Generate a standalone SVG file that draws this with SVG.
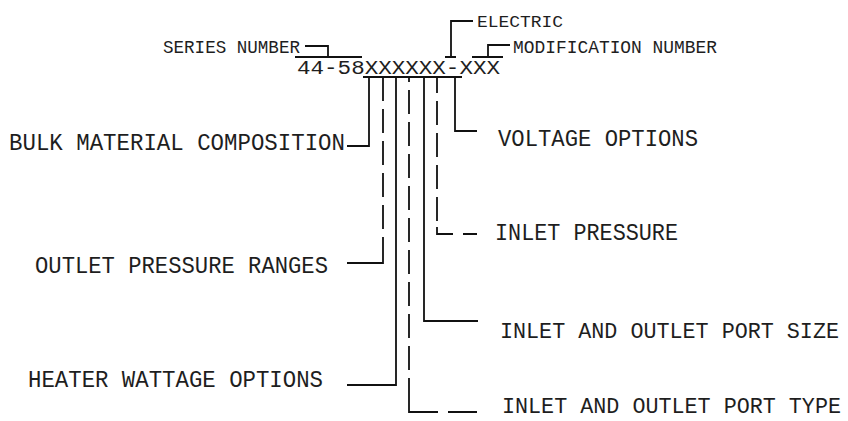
<svg xmlns="http://www.w3.org/2000/svg" width="848" height="421" viewBox="0 0 848 421">
<style>
.lbl{font-family:"Liberation Mono","DejaVu Sans Mono",monospace;font-size:23px;fill:#1e1e1e}
.lbl2{font-family:"Liberation Mono","DejaVu Sans Mono",monospace;font-size:21.5px;fill:#1e1e1e}
.sm{font-family:"Liberation Mono","DejaVu Sans Mono",monospace;font-size:18px;fill:#1e1e1e}
.xs{font-family:"Liberation Mono","DejaVu Sans Mono",monospace;font-size:16px;fill:#1e1e1e}
.code{font-family:"Liberation Mono","DejaVu Sans Mono",monospace;font-size:20px;fill:#1e1e1e}
.ln{fill:none;stroke:#111;stroke-width:1.8}
.dash{fill:none;stroke:#111;stroke-width:1.8;stroke-dasharray:24 8}
</style>
<rect width="848" height="421" fill="#fff"/>
<g id="connectors">
  <path class="ln" d="M305,46H328V57M295,57H362"/>
  <path class="ln" d="M473,21H451V57M445,57H456"/>
  <path class="ln" d="M510,45H488V57M472,57H503"/>
  <path class="ln" d="M363,77H462"/>
  <path class="ln" d="M369,77V146H347"/>
  <path class="dash" d="M383,77V229"/>
  <path class="ln" d="M383,237V263H347"/>
  <path class="ln" d="M396,77V385H347"/>
  <path class="dash" d="M409,77V402" stroke-dashoffset="19"/>
  <path class="ln" d="M409,402V412H438M448,412H477"/>
  <path class="ln" d="M424,77V321H478"/>
  <path class="dash" d="M437,77V221" stroke-dashoffset="8"/>
  <path class="ln" d="M437,227V234H453M463,234H477"/>
  <path class="ln" d="M455,77V131H477"/>
</g>
<g id="code"><text class="code" x="297" y="74" textLength="203" lengthAdjust="spacingAndGlyphs">44-58XXXXXX-XXX</text></g>
<g id="series-number"><text class="sm" x="163" y="53" textLength="137" lengthAdjust="spacingAndGlyphs">SERIES NUMBER</text></g>
<g id="electric"><text class="xs" x="477" y="27" textLength="86" lengthAdjust="spacingAndGlyphs">ELECTRIC</text></g>
<g id="modification-number"><text class="sm" x="513" y="53" textLength="204" lengthAdjust="spacingAndGlyphs">MODIFICATION NUMBER</text></g>
<g id="bulk-material"><text class="lbl" x="9" y="150" textLength="336" lengthAdjust="spacingAndGlyphs">BULK MATERIAL COMPOSITION</text></g>
<g id="outlet-pressure"><text class="lbl" x="35" y="273" textLength="293" lengthAdjust="spacingAndGlyphs">OUTLET PRESSURE RANGES</text></g>
<g id="heater-wattage"><text class="lbl" x="28" y="387" textLength="295" lengthAdjust="spacingAndGlyphs">HEATER WATTAGE OPTIONS</text></g>
<g id="voltage-options"><text class="lbl" x="498" y="146" textLength="200" lengthAdjust="spacingAndGlyphs">VOLTAGE OPTIONS</text></g>
<g id="inlet-pressure"><text class="lbl" x="495" y="240" textLength="183" lengthAdjust="spacingAndGlyphs">INLET PRESSURE</text></g>
<g id="port-size"><text class="lbl2" x="500" y="338" textLength="339" lengthAdjust="spacingAndGlyphs">INLET AND OUTLET PORT SIZE</text></g>
<g id="port-type"><text class="lbl2" x="502" y="413" textLength="339" lengthAdjust="spacingAndGlyphs">INLET AND OUTLET PORT TYPE</text></g>
</svg>
